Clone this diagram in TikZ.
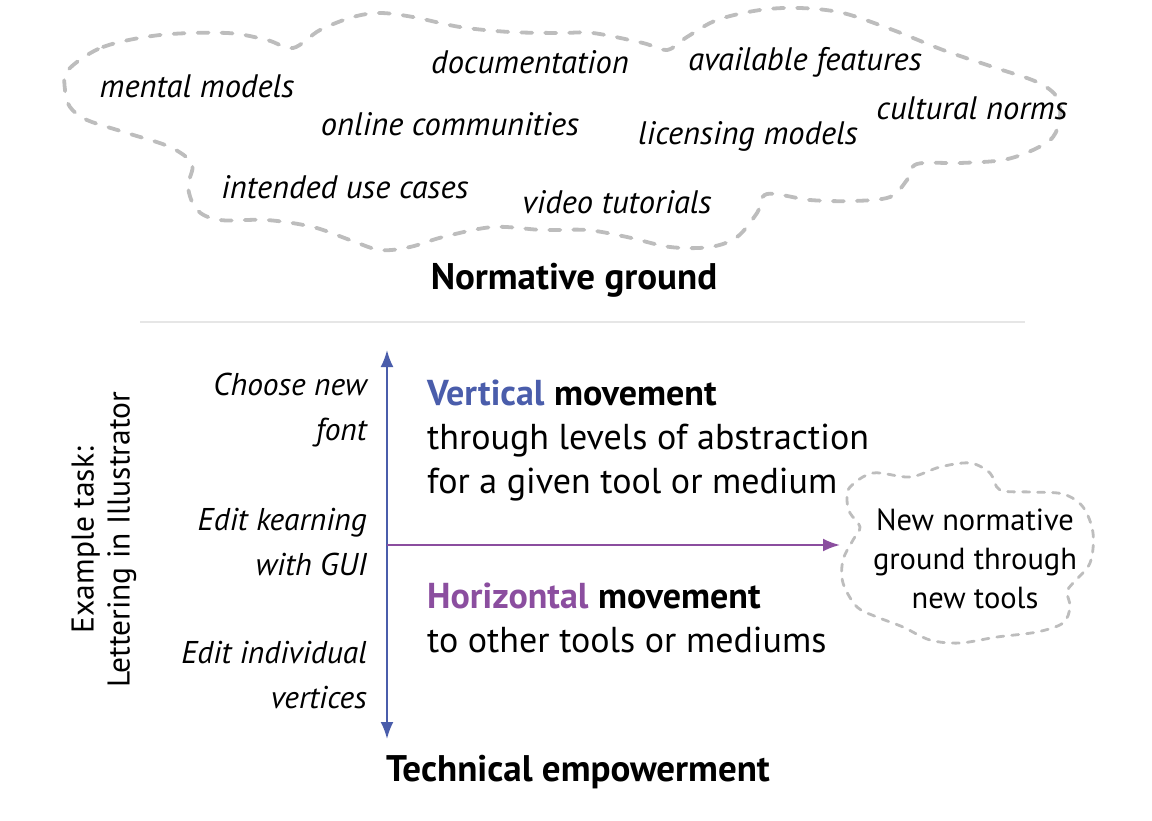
\documentclass[tikz,border=0pt]{standalone}
\usepackage{fontspec}
\setmainfont{PT Sans}
\usepackage{xcolor}
\usetikzlibrary{arrows.meta,positioning}

\definecolor{vblue}{HTML}{4A5DAB}
\definecolor{hpurple}{HTML}{8B4E9F}
\definecolor{cloudgray}{HTML}{BDBDBD}
\definecolor{rulegray}{HTML}{E6E6E6}

\begin{document}
\begin{tikzpicture}[x=1pt, y=-1pt, >=Latex]
    \tikzstyle{idea} = [font=\fontsize{32.5}{38}\selectfont\itshape, inner sep=0pt]
    \tikzstyle{heading} = [font=\fontsize{37}{42}\selectfont\bfseries, inner sep=0pt]
    \tikzstyle{level} = [font=\fontsize{31.5}{45}\selectfont\itshape, align=right, anchor=east, inner sep=0pt]
    \tikzstyle{movetext} = [font=\fontsize{36}{44}\selectfont, align=left, anchor=west, inner sep=0pt]
    \tikzstyle{cloud} = [draw=cloudgray, line width=3.8pt, line cap=round, dash pattern=on 11pt off 13pt]
    \tikzstyle{arrow} = [line width=2.2pt, arrows={-Latex[length=17pt,width=13pt]}]
    \useasboundingbox (0,0) rectangle (1152,820);

    % Normative ground cloud
    \draw [cloud] plot[smooth cycle, tension=0.55] coordinates {
        (68,70) (103,47) (160,35) (227,33) (267,40) (293,48)
        (320,30) (353,17) (380,13) (413,17) (460,27) (510,32) (560,33)
        (593,33) (643,43) (667,50) (687,37) (717,20) (760,10) (800,8)
        (843,13) (893,30) (943,50) (993,67) (1037,82) (1057,97) (1060,117)
        (1053,137) (1033,150) (1003,160) (960,163) (917,164) (907,180)
        (890,197) (853,201) (810,200) (767,194) (757,213) (737,237)
        (710,247) (670,247) (627,237) (587,230) (543,230) (493,227)
        (443,237) (410,247) (380,250) (350,240) (313,227) (267,220)
        (220,220) (197,210) (188,187) (192,164) (170,147) (127,133)
        (87,120) (70,107) (65,90)};

    % Nodes
    \node [idea] (mental) at (197,86) {mental models};
    \node [idea] (docs) at (530,62) {documentation};
    \node [idea] (features) at (805,62) {available features};
    \node [idea] (online) at (450,124) {online communities};
    \node [idea] (licensing) at (748,136) {licensing models};
    \node [idea] (cultural) at (972,108) {cultural norms};
    \node [idea] (intended) at (345,187) {intended use cases};
    \node [idea] (video) at (617,202) {video tutorials};
    \node [heading] (normative) at (574,280) {Normative ground};

    \draw [rulegray, line width=1.5pt] (140,322) -- (1025,322);

    % Axes
    \coordinate (axtop) at (387,350);
    \coordinate (axbot) at (387,739);
    \coordinate (axmid) at (387,545);
    \coordinate (htip) at (840,545);
    \draw [arrow, vblue, arrows={Latex[length=17pt,width=13pt]-Latex[length=17pt,width=13pt]}] (axtop) -- (axbot);
    \draw [arrow, hpurple] (axmid) -- (htip);

    \node [level] (font) at (367,410) {Choose new\\font};
    \node [level] (kern) at (367,542) {Edit kearning\\with GUI};
    \node [level] (vert) at (367,675) {Edit individual\\vertices};

    \node [movetext] (vmove) at (427,441) {\textbf{\color{vblue}Vertical} \textbf{movement}\\through levels of abstraction\\for a given tool or medium};
    \node [movetext] (hmove) at (427,618) {\textbf{\color{hpurple}Horizontal} \textbf{movement}\\to other tools or mediums};

    \node [font=\fontsize{31.5}{36}\selectfont, rotate=90, align=center, inner sep=0pt] (task) at (104,540) {Example task:\\Lettering in Illustrator};

    \node [heading] (technical) at (578,772) {Technical empowerment};

    % New ground cloud
    \draw [cloud, line width=2.8pt, dash pattern=on 7pt off 8pt] plot[smooth cycle, tension=0.55] coordinates {
        (850,487) (873,473) (910,477) (940,467) (970,463) (990,473) (1000,490)
        (1030,492) (1063,494) (1083,507) (1093,533) (1090,563) (1073,583)
        (1067,592) (1070,607) (1063,623) (1037,632) (997,637) (960,643)
        (930,640) (903,627) (877,617) (857,607) (843,583) (843,560)
        (853,540) (860,527) (850,513) (847,500)};
    \node [font=\fontsize{30.5}{39}\selectfont, align=center, inner sep=0pt] (newground) at (975,559) {New normative\\ground through\\new tools};
\end{tikzpicture}
\end{document}
